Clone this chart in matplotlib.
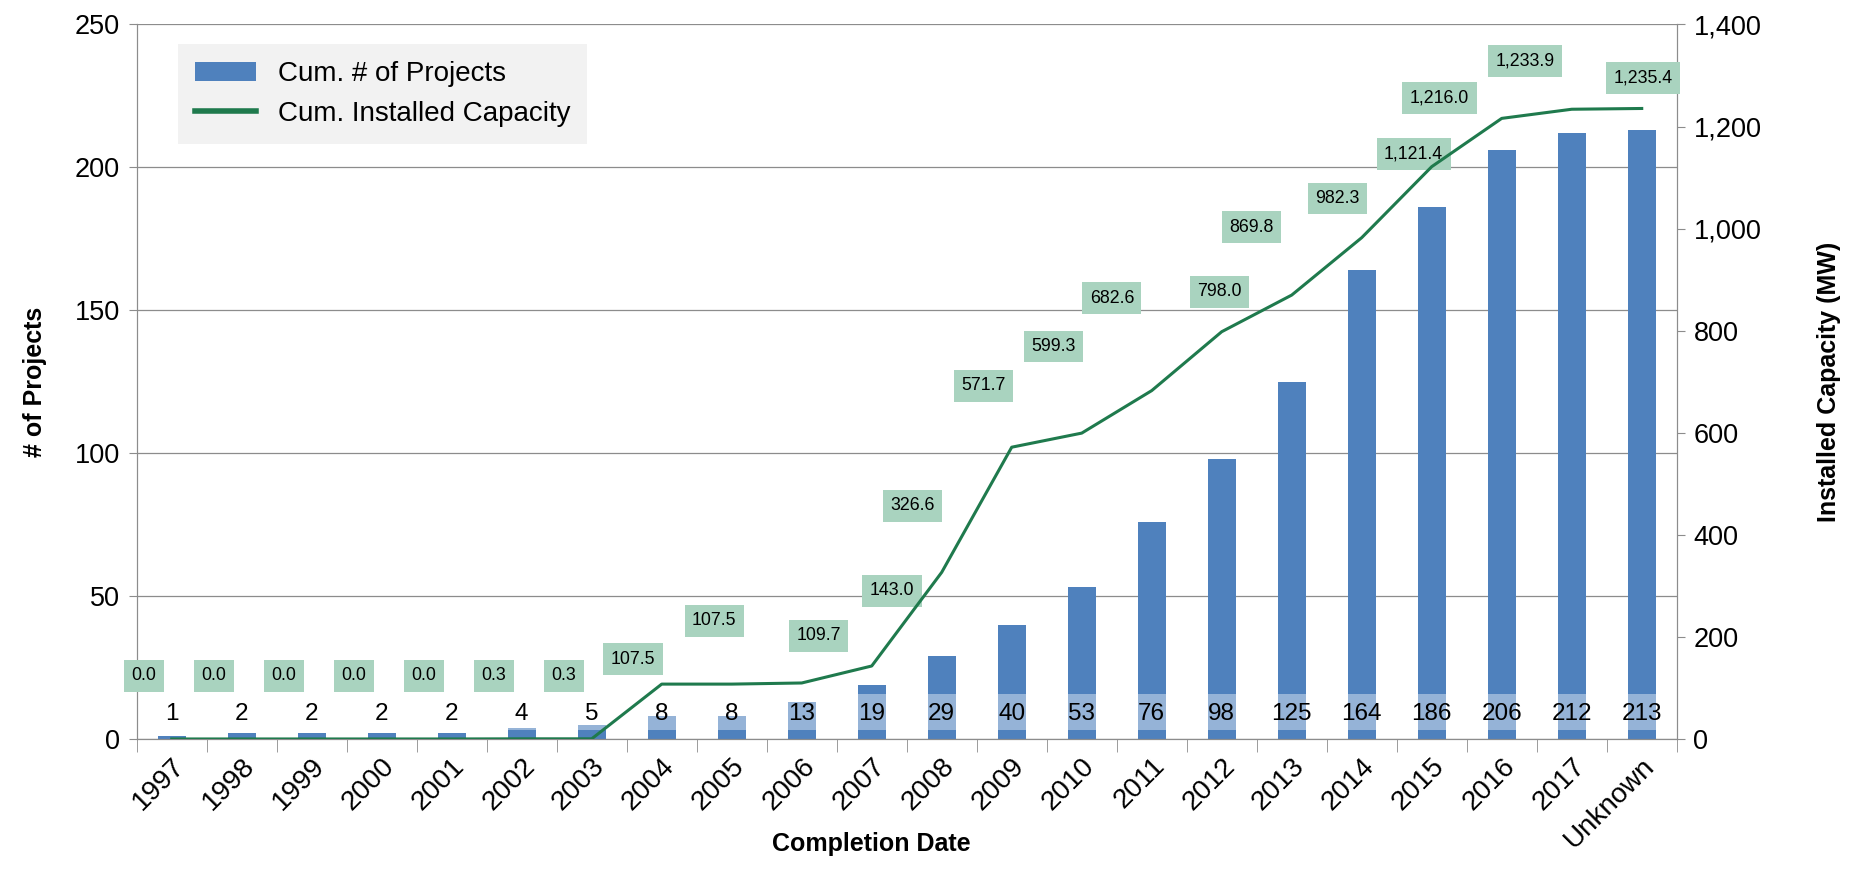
import matplotlib
matplotlib.use("Agg")
import matplotlib.pyplot as plt
import numpy as np
from matplotlib.ticker import FuncFormatter, MultipleLocator

plt.rcParams['font.family'] = ['Liberation Sans', 'DejaVu Sans']

# data
years = ['1997', '1998', '1999', '2000', '2001', '2002', '2003', '2004', '2005', '2006', '2007',
         '2008', '2009', '2010', '2011', '2012', '2013', '2014', '2015', '2016', '2017', 'Unknown']
projects = [1, 2, 2, 2, 2, 4, 5, 8, 8, 13, 19, 29, 40, 53, 76, 98, 125, 164, 186, 206, 212, 213]
capacity = [0.0, 0.0, 0.0, 0.0, 0.0, 0.3, 0.3, 107.5, 107.5, 109.7, 143.0, 326.6, 571.7, 599.3,
            682.6, 798.0, 869.8, 982.3, 1121.4, 1216.0, 1233.9, 1235.4]

# where the capacity callouts sit (x shift in categories, y in MW), as in the source
cap_label_dx = [-0.40] * 7 + [-0.41, -0.25, 0.24, 0.29, -0.42, -0.40, -0.40, -0.57, -0.03,
                              -0.57, -0.35, -0.26, -0.89, -0.67, 0.02]
cap_label_y = [124] * 7 + [156, 232, 202, 290, 457, 692, 769, 864, 876, 1003, 1059, 1146,
                           1256, 1328, 1296]

BAR_C = '#4F81BD'
LINE_C = '#1F7A4D'
BOX_C = '#A9D3BF'
GRID_C = '#8C8C8C'

x = np.arange(len(years))

fig = plt.figure(figsize=(18.55, 8.74), dpi=100)
ax = fig.add_axes([0.0737, 0.1545, 0.8302, 0.8175])
ax2 = ax.twinx()

bars = ax.bar(x, projects, width=0.405, color=BAR_C, zorder=2, label='Cum. # of Projects')
# pale band behind the count labels
ax.bar(x, 12.6, bottom=3.2, width=0.405, color='white', alpha=0.4, zorder=3)
for xi, v in zip(x, projects):
    ax.text(xi, 8.6, f'{v}', ha='center', va='center', fontsize=17.5, zorder=4)

line, = ax2.plot(x, capacity, color=LINE_C, lw=2.2, zorder=5, label='Cum. Installed Capacity')
for xi, v, dx, ly in zip(x, capacity, cap_label_dx, cap_label_y):
    ax2.text(xi + dx, ly, f'{v:,.1f}', ha='center', va='center', fontsize=12.8, zorder=3,
             bbox=dict(boxstyle='square,pad=0.42', fc=BOX_C, ec='none'))

ax.set_xlim(-0.5, len(years) - 0.5)
ax.set_ylim(0, 250)
ax2.set_ylim(0, 1400)
ax.yaxis.set_major_locator(MultipleLocator(50))
ax2.yaxis.set_major_locator(MultipleLocator(200))
ax2.yaxis.set_major_formatter(FuncFormatter(lambda v, p: f'{v:,.0f}'))

ax.grid(axis='y', color=GRID_C, lw=0.9, zorder=0)
ax.set_axisbelow(True)

ax.set_xticks(x)
ax.set_xticklabels(years, rotation=45, ha='right', rotation_mode='anchor', fontsize=20)
ax.set_xticks(np.arange(-0.5, len(years)), minor=True)
ax.tick_params(axis='x', which='major', length=0, pad=10)
ax.tick_params(axis='x', which='minor', length=9, color=GRID_C)
ax.tick_params(axis='y', labelsize=19.5, length=6, color=GRID_C, pad=6)
ax2.tick_params(axis='y', labelsize=19.5, length=6, color=GRID_C, pad=6)

for a in (ax, ax2):
    a.spines['top'].set_visible(False)
    for s in ('left', 'right', 'bottom'):
        a.spines[s].set_color(GRID_C)

ax.set_ylabel('# of Projects', fontsize=18, fontweight='bold', labelpad=20)
ax2.set_ylabel('Installed Capacity (MW)', fontsize=18, fontweight='bold', labelpad=40)
ax.set_xlabel('Completion Date', fontsize=18, fontweight='bold')
ax.xaxis.set_label_coords(0.477, -0.13)

leg = ax2.legend([bars, line], ['Cum. # of Projects', 'Cum. Installed Capacity'],
                 loc='upper left', bbox_to_anchor=(0.027, 0.972), borderaxespad=0,
                 fontsize=20, frameon=True, fancybox=False, facecolor='#F2F2F2',
                 edgecolor='none', framealpha=1, handlelength=2.2, borderpad=0.6,
                 labelspacing=0.5)
leg.get_lines()[0].set_linewidth(4)

fig.savefig('out.png', dpi=100)
